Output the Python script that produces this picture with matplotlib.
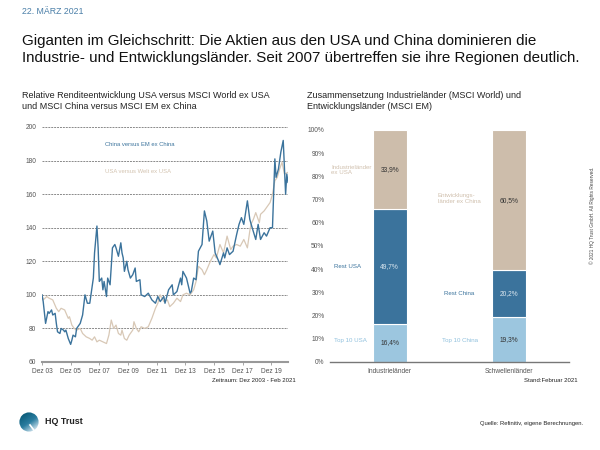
import matplotlib
matplotlib.use("Agg")
import matplotlib.pyplot as plt
import matplotlib.patches as patches
import numpy as np

plt.rcParams['font.family'] = ['Liberation Sans', 'DejaVu Sans']

# months after Dez 2003 and index values
china_months = [0, 1, 3, 5, 6, 8, 9, 11, 12, 13, 15, 16, 18, 19, 20, 22, 24, 25, 26, 28, 29, 32,
                34, 36, 38, 40, 41, 43, 44, 46, 47, 48, 50, 51, 52, 54, 55, 57, 59, 61, 62, 64,
                66, 67, 68, 69, 71, 72, 74, 76, 78, 79, 82, 83, 86, 89, 92, 95, 97, 99, 102,
                103, 106, 109, 110, 113, 116, 117, 118, 121, 124, 125, 127, 129, 131, 134, 136,
                138, 140, 143, 145, 148, 149, 152, 153, 155, 157, 160, 163, 165, 167, 169, 172,
                174, 176, 179, 181, 183, 186, 188, 191, 193, 195, 196, 198, 200, 202, 203, 204,
                205, 206]
china_values = [100, 96, 83, 90, 89, 91, 88, 89, 83, 78, 77, 80, 79, 78, 79, 74, 70.5, 73, 76, 75,
                80, 83, 88, 100, 95, 95, 100, 110, 125, 141, 128, 108, 110, 103, 108, 99, 110,
                106, 128, 130, 128, 123, 131, 125, 122, 114, 120, 115, 110, 112, 116, 108, 109,
                100, 99, 101, 97, 95, 99, 96, 99, 95, 103, 106, 100, 102, 110, 106, 114, 110,
                101, 102, 110, 109, 126, 130, 150, 144, 132, 138, 125, 120, 118, 125, 122, 128,
                124, 126, 136, 142, 146, 142, 156, 145, 140, 133, 142, 133, 137, 135, 140, 140,
                181, 170, 175, 185, 192, 176, 160, 172, 167]

usa_months = [0, 1, 4, 6, 9, 12, 14, 16, 19, 22, 23, 25, 27, 29, 32, 34, 37, 40, 42, 44, 46, 48,
              51, 54, 56, 58, 60, 62, 64, 66, 67, 69, 71, 73, 76, 77, 79, 81, 83, 86, 89, 92, 95,
              97, 99, 102, 105, 107, 110, 113, 116, 118, 121, 124, 127, 129, 131, 134, 136, 138,
              141, 144, 146, 149, 152, 155, 158, 160, 163, 166, 169, 172, 174, 175, 177, 179,
              182, 183, 186, 189, 191, 193, 195, 197, 199, 201, 203, 206]
usa_values = [100, 97, 99, 98, 97, 92, 90, 92, 91, 86, 87, 82, 80, 79, 80, 77, 75, 74, 73, 75, 72,
              73, 72, 71, 76, 85, 80, 82, 77, 76, 79, 74, 73, 76, 79, 84, 80, 78, 81, 80, 81, 86,
              92, 95, 100, 96, 97, 93, 95, 98, 96, 100, 101, 100, 103, 108, 117, 115, 112, 115,
              120, 124, 122, 130, 125, 135, 127, 129, 130, 129, 133, 128, 138, 142, 145, 149,
              143, 148, 150, 153, 155, 160, 168, 170, 175, 179, 172, 173]

x_tick_months = [0, 24, 48, 72, 96, 120, 144, 168, 192]
x_tick_labels = ['Dez 03', 'Dez 05', 'Dez 07', 'Dez 09', 'Dez 11', 'Dez 13', 'Dez 15', 'Dez 17', 'Dez 19']

# stacked bar composition (%)
bar_groups = ['Industrieländer', 'Schwellenländer']
top10 = [16.4, 19.3]
rest = [49.7, 20.2]
ex_region = [33.9, 60.5]

blue = '#3b739c'
beige = '#cdbdab'
light_blue = '#9cc6df'
grey_txt = '#555555'

fig = plt.figure(figsize=(6, 4.5), dpi=100)

# header texts
fig.text(22/600, 1 - 12/450, '22. MÄRZ 2021', color='#4a7fa8', fontsize=6.3, va='center')
fig.text(22/600, 1 - 49.5/450,
         'Giganten im Gleichschritt: Die Aktien aus den USA und China dominieren die\n'
         'Industrie- und Entwicklungsländer. Seit 2007 übertreffen sie ihre Regionen deutlich.',
         fontsize=10.9, va='center', color='#111111', linespacing=1.32)
fig.text(22/600, 1 - 101/450,
         'Relative Renditeentwicklung USA versus MSCI World ex USA\nund MSCI China versus MSCI EM ex China',
         fontsize=6.5, va='center', color='#222222', linespacing=1.15)
fig.text(307/600, 1 - 101/450,
         'Zusammensetzung Industrieländer (MSCI World) und\nEntwicklungsländer (MSCI EM)',
         fontsize=6.5, va='center', color='#222222', linespacing=1.15)

# left: line chart
ax = fig.add_axes([42/600, 1 - 362/450, 246/600, 235/450])
ax.plot(usa_months, usa_values, color='#d8c8b6', lw=0.9)
ax.plot(china_months, china_values, color=blue, lw=1.0)
ax.set_xlim(0, 206)
ax.set_ylim(60, 200)
ax.set_yticks(range(60, 201, 20))
for yv in range(80, 201, 20):
    ax.axhline(yv, color='#8a8a8a', lw=0.7, ls=(0, (2, 1)), zorder=0)
ax.set_xticks(x_tick_months)
ax.set_xticklabels(x_tick_labels)
for s in ['top', 'right', 'left']:
    ax.spines[s].set_visible(False)
ax.spines['bottom'].set_color('#999999')
ax.spines['bottom'].set_linewidth(1.5)
ax.tick_params(axis='y', length=0, labelsize=4.8, labelcolor=grey_txt, pad=4)
ax.tick_params(axis='x', length=2, width=0.6, color='#999999', labelsize=4.8, labelcolor=grey_txt, pad=2)
ax.text(53, 189.5, 'China versus EM ex China', color=blue, fontsize=4.2, va='center')
ax.text(53, 173.5, 'USA versus Welt ex USA', color='#d3c3b0', fontsize=4.2, va='center')
fig.text(296/600, 1 - 381/450, 'Zeitraum: Dez 2003 - Feb 2021', fontsize=4.3, ha='right', va='center', color='#222222')

# right: stacked bars
bx = fig.add_axes([330/600, 1 - 362/450, 239/600, 232/450])
xpos = np.arange(len(bar_groups))
w = 0.285
bottom2 = [a + b for a, b in zip(top10, rest)]
bx.bar(xpos, top10, w, color=light_blue, edgecolor='white', lw=0.8)
bx.bar(xpos, rest, w, bottom=top10, color=blue, edgecolor='white', lw=0.8)
bx.bar(xpos, ex_region, w, bottom=bottom2, color=beige, edgecolor='white', lw=0.8)
bx.set_xlim(-0.5, 1.5)
bx.set_ylim(0, 100)
bx.set_yticks(range(0, 101, 10))
bx.set_yticklabels([f'{v}%' for v in range(0, 101, 10)])
bx.set_xticks(xpos)
bx.set_xticklabels(bar_groups)
for s in ['top', 'right', 'left']:
    bx.spines[s].set_visible(False)
bx.spines['bottom'].set_color('#777777')
bx.spines['bottom'].set_linewidth(1.0)
bx.tick_params(axis='y', length=0, labelsize=4.8, labelcolor=grey_txt, pad=4)
bx.tick_params(axis='x', length=0, labelsize=4.8, labelcolor=grey_txt, pad=4)

for i in range(len(bar_groups)):
    fmt = lambda v: f'{v:.1f}%'.replace('.', ',')
    bx.text(xpos[i], top10[i] / 2, fmt(top10[i]), ha='center', va='center', fontsize=4.8, color='#333333')
    bx.text(xpos[i], top10[i] + rest[i] / 2, fmt(rest[i]), ha='center', va='center', fontsize=4.8, color='#dde8f0')
    bx.text(xpos[i], bottom2[i] + ex_region[i] / 2, fmt(ex_region[i]), ha='center', va='center', fontsize=4.8, color='#333333')

bx.text(-0.49, 82.8, 'Industrieländer\nex USA', color='#d0c0ae', fontsize=4.4, va='center', linespacing=1.2)
bx.text(-0.47, 41.3, 'Rest USA', color=blue, fontsize=4.4, va='center')
bx.text(-0.47, 9.3, 'Top 10 USA', color='#8fc0dd', fontsize=4.4, va='center')
bx.text(0.40, 70.5, 'Entwicklungs-\nländer ex China', color='#d0c0ae', fontsize=4.4, va='center', linespacing=1.2)
bx.text(0.58, 29.6, 'Rest China', color=blue, fontsize=4.4, va='center', ha='center')
bx.text(0.59, 9.4, 'Top 10 China', color='#8fc0dd', fontsize=4.4, va='center', ha='center')
fig.text(578/600, 1 - 381/450, 'Stand:Februar 2021', fontsize=4.3, ha='right', va='center', color='#222222')

# copyright note
fig.text(592/600, 1 - 215/450, '© 2021 HQ Trust GmbH. All Rights Reserved.', rotation=90,
         fontsize=3.4, ha='center', va='center', color='#444444')

# footer
lx = fig.add_axes([19/600, 1 - 432/450, 20/600, 20/450])
gy, gx = np.mgrid[0:1:100j, 0:1:100j]
grad = np.clip(gx * 0.6 + gy * 0.9 - 0.3, 0, 1)
cmap = matplotlib.colors.LinearSegmentedColormap.from_list('logo', ['#0e5f7d', '#2a7da0', '#cfe3ee'])
im = lx.imshow(grad, cmap=cmap, extent=[0, 1, 0, 1], origin='upper')
circ = patches.Circle((0.5, 0.5), 0.48, transform=lx.transData)
im.set_clip_path(circ)
lx.plot([0.55, 0.8], [0.35, 0.02], color='white', lw=1.2)
lx.set_xlim(0, 1)
lx.set_ylim(0, 1)
lx.axis('off')
fig.text(45/600, 1 - 422/450, 'HQ Trust', fontsize=6.4, fontweight='bold', va='center', color='#222222')
fig.text(583/600, 1 - 423/450, 'Quelle: Refinitiv, eigene Berechnungen.', fontsize=4.2, ha='right', va='center', color='#222222')

fig.savefig('out.png', dpi=100)
